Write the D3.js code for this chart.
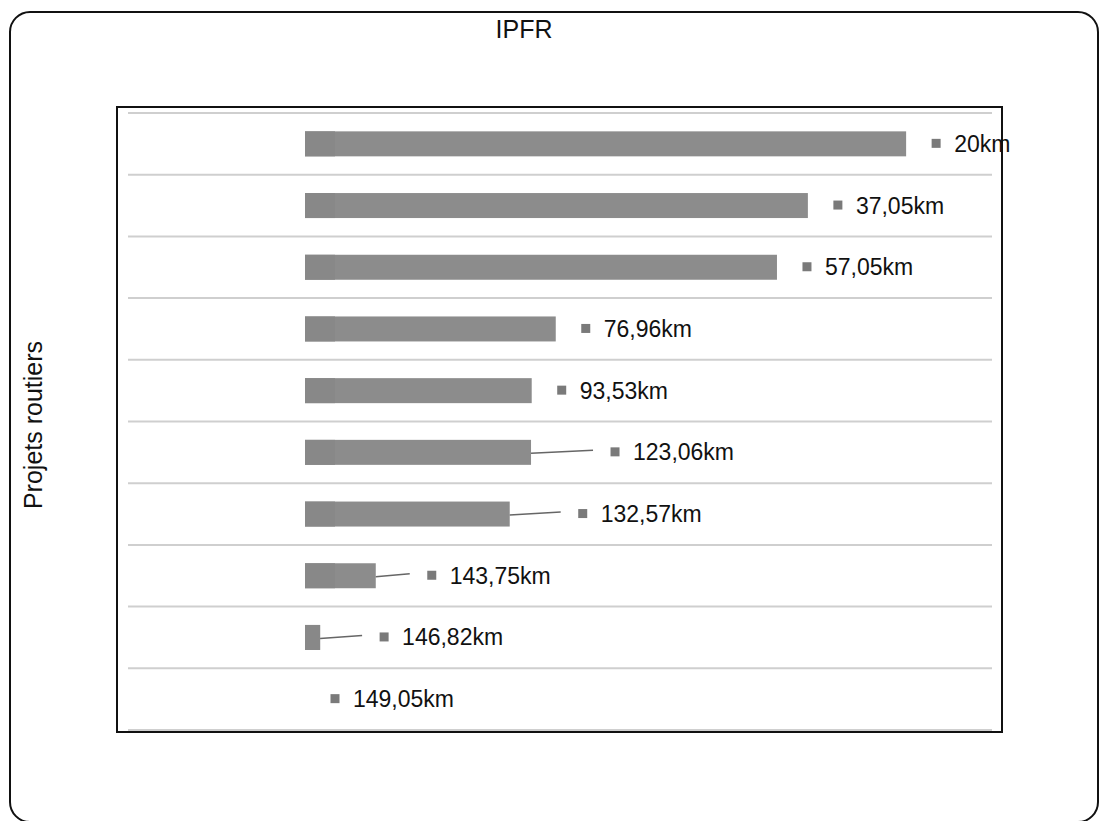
<!DOCTYPE html>
<html>
<head>
<meta charset="utf-8">
<script src="https://cdn.jsdelivr.net/npm/d3@7/dist/d3.min.js"></script>
<style>
  html, body { margin: 0; padding: 0; background: #ffffff; }
  svg { display: block; }
  text { font-family: "Liberation Sans", Arial, sans-serif; fill: #111; }
</style>
</head>
<body>
<svg id="chart" width="1099" height="821"></svg>
<script>
// Road project milestones (label) and bar lengths per row
const milestones = ["20km", "37,05km", "57,05km", "76,96km", "93,53km",
                    "123,06km", "132,57km", "143,75km", "146,82km", "149,05km"];
const barValues = [87.5, 73.2, 68.7, 36.5, 33.0, 32.9, 29.8, 10.3, 2.2, 0];
const chartTitle = "IPFR";
const axisTitle = "Projets routiers";

// Leader line lengths for labels pushed away from short bars
const leaderLen = [0, 0, 0, 0, 0, 62, 51, 34, 42, 0];

const svg = d3.select("#chart");

// Outer rounded frame
svg.append("rect")
  .attr("x", 10).attr("y", 12)
  .attr("width", 1088).attr("height", 810)
  .attr("rx", 20).attr("ry", 20)
  .attr("fill", "#fff")
  .attr("stroke", "#111").attr("stroke-width", 2);

// Title
svg.append("text")
  .attr("x", 524).attr("y", 38)
  .attr("text-anchor", "middle")
  .style("font-size", "25px")
  .text(chartTitle);

// Plot box
const box = { left: 117, top: 107, right: 1002, bottom: 732 };

const x = d3.scaleLinear().domain([0, 100]).range([305, 992]);
const y = d3.scaleBand()
  .domain(milestones)
  .range([113, 730])
  .paddingInner(0.595)
  .paddingOuter(0.2975);

// Row separators at band boundaries
const step = y.step();
const rowEdges = d3.range(milestones.length + 1).map(i => 113 + i * step);
svg.append("g")
  .selectAll("line")
  .data(rowEdges)
  .join("line")
  .attr("x1", 128).attr("x2", 992)
  .attr("y1", d => d).attr("y2", d => d)
  .attr("stroke", "#cfcfcf").attr("stroke-width", 2);

// Bars
const bars = svg.append("g");
bars.selectAll("rect.bar")
  .data(barValues)
  .join("rect")
  .attr("class", "bar")
  .attr("x", x(0))
  .attr("y", (d, i) => y(milestones[i]))
  .attr("width", d => x(d) - x(0))
  .attr("height", y.bandwidth())
  .attr("fill", "#8c8c8c");

// Slightly darker shading at the left end of each bar
bars.selectAll("rect.cap")
  .data(barValues)
  .join("rect")
  .attr("class", "cap")
  .attr("x", x(0))
  .attr("y", (d, i) => y(milestones[i]))
  .attr("width", d => Math.min(30, x(d) - x(0)))
  .attr("height", y.bandwidth())
  .attr("fill", "#888888");

// Data labels with leader lines and marker squares
const labels = svg.append("g");
barValues.forEach((v, i) => {
  const end = x(v);
  const cy = y(milestones[i]) + y.bandwidth() / 2;
  const lead = leaderLen[i];
  const sx = end + (lead ? lead + 22 : 30);
  if (lead) {
    labels.append("line")
      .attr("x1", end).attr("y1", cy + 1)
      .attr("x2", end + lead).attr("y2", cy - 2)
      .attr("stroke", "#666").attr("stroke-width", 1.5);
  }
  labels.append("rect")
    .attr("x", sx - 4.5).attr("y", cy - 5)
    .attr("width", 9).attr("height", 9)
    .attr("fill", "#7a7a7a");
  labels.append("text")
    .attr("x", sx + 18).attr("y", cy + 8)
    .style("font-size", "23px")
    .text(milestones[i]);
});

// Plot frame
svg.append("rect")
  .attr("x", box.left).attr("y", box.top)
  .attr("width", box.right - box.left)
  .attr("height", box.bottom - box.top)
  .attr("fill", "none")
  .attr("stroke", "#111").attr("stroke-width", 2);

// Vertical axis title
svg.append("text")
  .attr("transform", "translate(42,425) rotate(-90)")
  .attr("text-anchor", "middle")
  .style("font-size", "25px")
  .text(axisTitle);
</script>
</body>
</html>
